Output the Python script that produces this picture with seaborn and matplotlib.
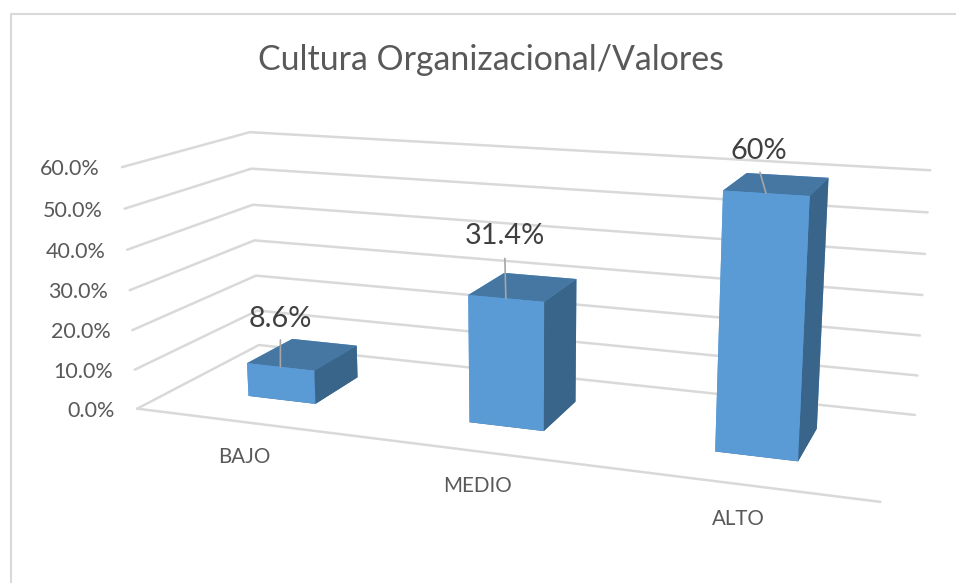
import matplotlib
matplotlib.use('Agg')
import matplotlib.pyplot as plt
from matplotlib.lines import Line2D
from mpl_toolkits.mplot3d import proj3d
import seaborn as sns

title = 'Cultura Organizacional/Valores'
categories = ['BAJO', 'MEDIO', 'ALTO']
values = [8.6, 31.4, 60.0]
value_labels = ['8.6%', '31.4%', '60%']
y_ticks = [0, 10, 20, 30, 40, 50, 60]
y_tick_labels = ['0.0%', '10.0%', '20.0%', '30.0%', '40.0%', '50.0%', '60.0%']

W, H = 956, 583
sns.set_theme(style='white')
plt.rcParams['font.family'] = ['Lato', 'DejaVu Sans']

grid_color = '#D9D9D9'
text_color = '#595959'
label_color = '#404040'
front, top, side = sns.color_palette(['#5B9BD5', '#4677A3', '#3A658B'])

# camera that puts the walls and bars where the Excel chart has them
bar_w, depth0, depth1 = 0.314, 0.304, 0.698
scale, center_x, center_y = 4364.29, 523.36, 292.58

fig = plt.figure(figsize=(W / 100, H / 100), dpi=100)
ax = fig.add_subplot(projection='3d', computed_zorder=False)
ax.set_xlim(0, 3, view_margin=0)
ax.set_ylim(0, 1, view_margin=0)
ax.set_zlim(0, 60, view_margin=0)
ax.view_init(14.113, -69.85, 0.054)
ax.set_proj_type('persp', focal_length=0.3632)
ax.set_box_aspect((1, 0.3348, 0.3332))
ax.set_axis_off()
ax.patch.set_alpha(0)

vl = ax.viewLim
ax.set_position([(center_x + vl.x0 * scale) / W, (H - center_y + vl.y0 * scale) / H,
                 scale * vl.width / W, scale * vl.height / H])
M = ax.get_proj()


def note(text, x, y, z, dx, dy, **kw):
    # dx, dy are pixels on the picture, y going down
    sx, sy, _ = proj3d.proj_transform(x, y, z, M)
    ax.annotate(text, xy=(sx, sy), xycoords='data', xytext=(dx * 0.72, -dy * 0.72),
                textcoords='offset points', annotation_clip=False, **kw)


for t, lab in zip(y_ticks, y_tick_labels):
    ax.plot([0, 0, 3], [0, 1, 1], [t, t, t], color=grid_color, lw=1.8, clip_on=False, zorder=1)
    note(lab, 0, 0, t, -22, 2, ha='right', va='center', fontsize=15.5, color=text_color)
ax.plot([0, 3], [0, 0], [0, 0], color=grid_color, lw=1.8, clip_on=False, zorder=1)

for i, v in enumerate(values):
    ax.bar3d(i + 0.5 - bar_w / 2, depth0, 0, bar_w, depth1 - depth0, v, shade=False,
             color=[side, top, front, front, front, side], linewidth=0, zorder=3 + i)

label_off = [(0, -48), (-1, -62), (-7, -42)]
leader_off = [(0, -27), (-1, -40), (-6, -21)]
for i, v in enumerate(values):
    x = i + 0.5
    note('', x, depth0, v, *leader_off[i], zorder=8,
         arrowprops=dict(arrowstyle='-', color='#A6A6A6', lw=1.2, shrinkA=0, shrinkB=0))
    note(value_labels[i], x, depth0, v, *label_off[i], ha='center', va='center',
         fontsize=20.8, color=label_color, zorder=9)
    note(categories[i], x, 0, 0, 0, 35, ha='center', va='center', fontsize=14.8, color=text_color)

fig.text(491 / W, 1 - 70 / H, title, ha='center', va='baseline', fontsize=24.4, color=text_color)

fig.add_artist(Line2D([11 / W, 11 / W, 1], [0, 1 - 14 / H, 1 - 14 / H], color=grid_color, lw=1.5))

fig.savefig('out.png', dpi=100)
